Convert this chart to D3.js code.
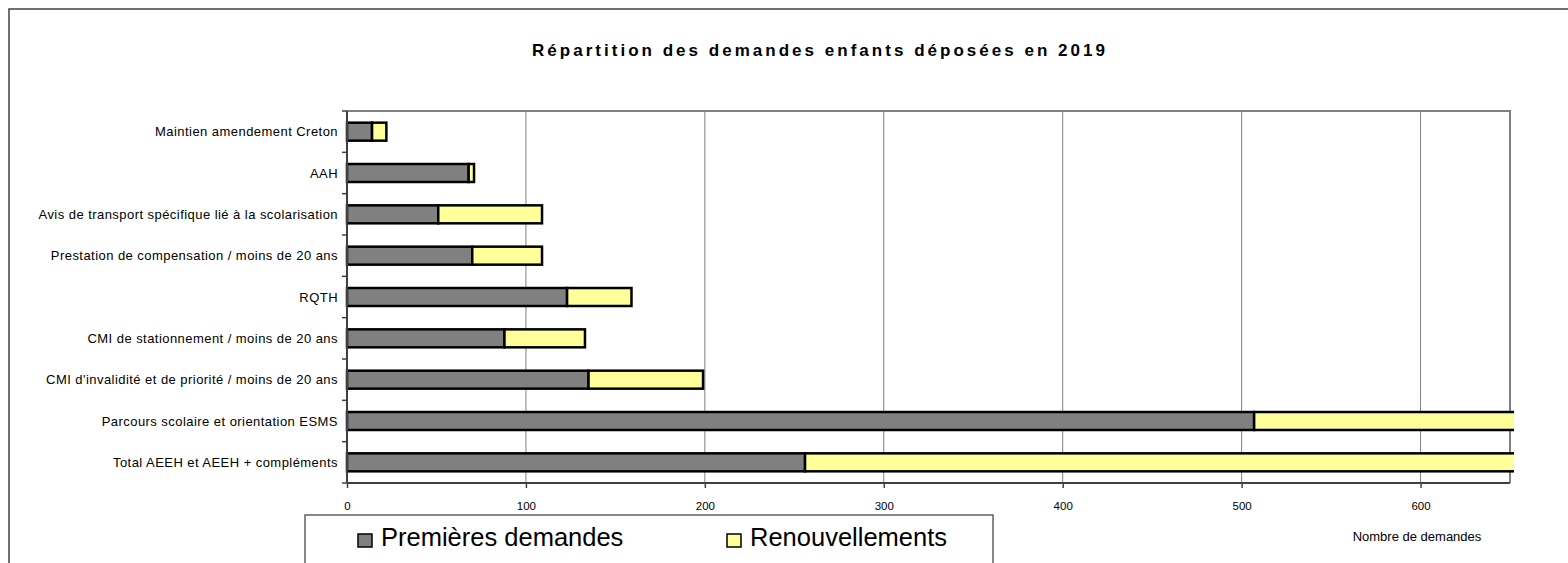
<!DOCTYPE html>
<html>
<head>
<meta charset="utf-8">
<script src="https://cdn.jsdelivr.net/npm/d3@7"></script>
<style>
  body { margin: 0; background: #fff; }
  text { font-family: "Liberation Sans", Arial, sans-serif; fill: #000; }
</style>
</head>
<body>
<div class="chart"></div>
<script>
// data (top to bottom)
var categories = [
  "Maintien amendement Creton",
  "AAH",
  "Avis de transport spécifique lié à la scolarisation",
  "Prestation de compensation / moins de 20 ans",
  "RQTH",
  "CMI de stationnement / moins de 20 ans",
  "CMI d'invalidité et de priorité / moins de 20 ans",
  "Parcours scolaire et orientation ESMS",
  "Total AEEH et AEEH + compléments"
];
var premieres = [14, 68, 51, 70, 123, 88, 135, 507, 256];
var renouvellements = [8, 3, 58, 39, 36, 45, 64, 260, 480];
var xTicks = [0, 100, 200, 300, 400, 500, 600];
var seriesNames = ["Premières demandes", "Renouvellements"];
var seriesColors = ["#808080", "#ffff99"];

var svgWidth = 1568;
var svgHeight = 563;

// plot area
var margin = { top: 111, left: 347, right: 1568 - 1510, bottom: 563 - 483 };
var chartWidth = svgWidth - margin.left - margin.right;
var chartHeight = svgHeight - margin.top - margin.bottom;

var svg = d3.select(".chart").append("svg")
  .attr("width", svgWidth)
  .attr("height", svgHeight);

// outer chart frame
svg.append("rect")
  .attr("x", 9).attr("y", 9)
  .attr("width", 3000).attr("height", 3000)
  .attr("fill", "none")
  .attr("stroke", "#404040")
  .attr("stroke-width", 1.5);

// title
svg.append("text")
  .attr("x", 532).attr("y", 56)
  .attr("textLength", 573)
  .attr("lengthAdjust", "spacing")
  .style("font-size", "17px")
  .style("font-weight", "bold")
  .text("Répartition des demandes enfants déposées en 2019");

var chartGroup = svg.append("g")
  .attr("transform", `translate(${margin.left}, ${margin.top})`);

var xScale = d3.scaleLinear().domain([0, 650]).range([0, chartWidth]);
var yScale = d3.scaleBand().domain(categories).range([0, chartHeight])
  .paddingInner(0.565).paddingOuter(0.2825);

// plot border (top / right)
chartGroup.append("path")
  .attr("d", `M0,0H${chartWidth}V${chartHeight}`)
  .attr("fill", "none")
  .attr("stroke", "#808080")
  .attr("stroke-width", 2);

// gridlines
chartGroup.selectAll(".grid")
  .data(xTicks.slice(1))
  .enter().append("line")
  .attr("class", "grid")
  .attr("x1", d => xScale(d)).attr("x2", d => xScale(d))
  .attr("y1", 0).attr("y2", chartHeight)
  .attr("stroke", "#808080")
  .attr("stroke-width", 1);

// stacked bars
var stackData = categories.map((c, i) => ({ cat: c, p: premieres[i], r: renouvellements[i] }));
var stacked = d3.stack().keys(["p", "r"])(stackData);

svg.append("clipPath").attr("id", "clip")
  .append("rect").attr("x", -5).attr("y", -5)
  .attr("width", chartWidth + 9).attr("height", chartHeight + 10);

var barLayer = chartGroup.append("g").attr("clip-path", "url(#clip)");
barLayer.selectAll("g")
  .data(stacked)
  .enter().append("g")
  .attr("fill", (d, i) => seriesColors[i])
  .selectAll("rect")
  .data(d => d)
  .enter().append("rect")
  .attr("x", d => xScale(d[0]))
  .attr("y", d => yScale(d.data.cat))
  .attr("width", d => xScale(d[1]) - xScale(d[0]))
  .attr("height", yScale.bandwidth())
  .attr("stroke", "#000")
  .attr("stroke-width", 2.5);

// x axis
var xAxis = chartGroup.append("g")
  .attr("transform", `translate(0, ${chartHeight})`)
  .call(d3.axisBottom(xScale).tickValues(xTicks).tickSize(5).tickPadding(14));
xAxis.select(".domain").attr("stroke", "#404040").attr("stroke-width", 2)
  .attr("d", `M0,0H${chartWidth}`);
xAxis.selectAll(".tick line").attr("stroke", "#404040").attr("stroke-width", 1.5);
xAxis.selectAll("text").style("font-size", "11.5px").attr("font-family", null);

// y axis: line, ticks at category boundaries, labels
var step = yScale.step();
var boundaries = d3.range(categories.length + 1).map(i => i * step);
chartGroup.append("line")
  .attr("x1", 0).attr("x2", 0).attr("y1", 0).attr("y2", chartHeight)
  .attr("stroke", "#404040").attr("stroke-width", 2);
chartGroup.selectAll(".ytick")
  .data(boundaries)
  .enter().append("line")
  .attr("class", "ytick")
  .attr("x1", -5).attr("x2", 0)
  .attr("y1", d => d).attr("y2", d => d)
  .attr("stroke", "#404040").attr("stroke-width", 1.5);
chartGroup.selectAll(".ylabel")
  .data(categories)
  .enter().append("text")
  .attr("class", "ylabel")
  .attr("x", -9)
  .attr("y", d => yScale(d) + yScale.bandwidth() / 2)
  .attr("dy", "0.35em")
  .attr("text-anchor", "end")
  .style("font-size", "13px")
  .style("letter-spacing", "0.45px")
  .text(d => d);

// axis title
svg.append("text")
  .attr("x", 1417).attr("y", 541)
  .attr("text-anchor", "middle")
  .style("font-size", "13px")
  .text("Nombre de demandes");

// legend
var legend = svg.append("g").attr("transform", "translate(305, 515)");
legend.append("rect")
  .attr("width", 688).attr("height", 100)
  .attr("fill", "#fff")
  .attr("stroke", "#606060")
  .attr("stroke-width", 1.5);
var legendX = [53, 422];
var items = legend.selectAll(".item")
  .data(seriesNames)
  .enter().append("g")
  .attr("transform", (d, i) => `translate(${legendX[i]}, 0)`);
items.append("rect")
  .attr("y", 19).attr("width", 14).attr("height", 13)
  .attr("fill", (d, i) => seriesColors[i])
  .attr("stroke", "#000").attr("stroke-width", 1.5);
items.append("text")
  .attr("x", 23).attr("y", 31)
  .style("font-size", "25.5px")
  .text(d => d);
</script>
</body>
</html>
